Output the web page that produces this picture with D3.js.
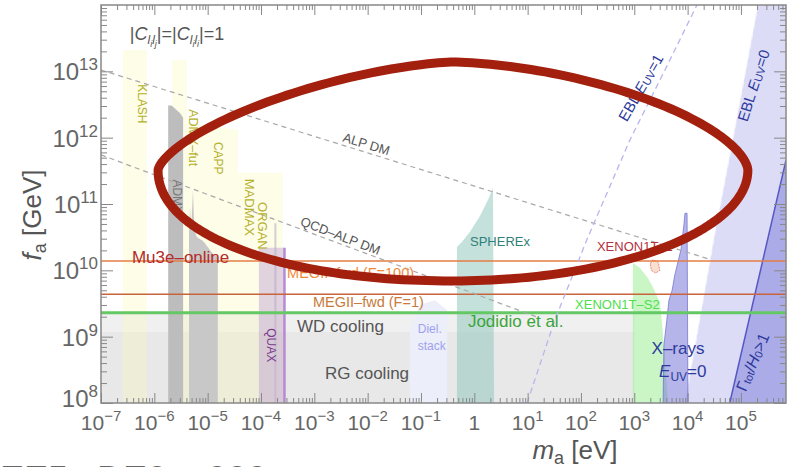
<!DOCTYPE html>
<html><head><meta charset="utf-8">
<script src="https://cdn.jsdelivr.net/npm/d3@7"></script>
<style>body{margin:0;background:#fff;} svg{display:block;font-family:"Liberation Sans",Arial,sans-serif;}</style>
</head><body><svg id="c" width="792" height="467"></svg>
<script>
// All values are [log10(m_a / eV), log10(f_a / GeV)]
const xDomainExp = [-7, 5.845];
const yDomainExp = [8, 14];
const xTickExps = [-7,-6,-5,-4,-3,-2,-1,0,1,2,3,4,5];
const yTickExps = [8,9,10,11,12,13];

const coolingWD = [[-7,8],[-7,9.36],[3,9.36],[3,8]];
const coolingRG = [[-7,8],[-7,9.07],[3,9.07],[3,8]];
const klash   = [[-6.59,8],[-6.59,13.32],[-6.14,13.32],[-6.14,8]];
const admxFut = [[-5.67,8],[-5.67,13.17],[-5.39,13.17],[-5.39,8]];
const capp    = [[-5.39,8],[-5.39,12.22],[-4.9,12.17],[-4.43,12.12],[-4.43,8]];
const madmax  = [[-4.43,8],[-4.43,11.47],[-3.59,11.47],[-3.59,8]];
const admxA   = [[-5.74,8],[-5.74,12.49],[-5.67,12.48],[-5.59,12.42],[-5.52,12.37],[-5.46,12.30],[-5.46,8]];
const admxB   = [[-5.35,8],[-5.35,10.55],[-5.33,10.95],[-5.31,10.6],[-5.275,11.21],[-5.25,10.6],[-5.2,10.5],[-5.1,10.45],[-5.05,10.41],[-5.0,10.35],[-4.95,10.3],[-4.9,10.25],[-4.81,10.2],[-4.81,8]];
const organSpike = [[-3.75,8],[-3.75,10.71],[-3.71,10.71],[-3.71,8]];
const quax    = [[-4.04,8],[-4.04,10.34],[-3.55,10.34],[-3.55,8]];
const quaxEdge= [[-3.56,8],[-3.56,10.34]];
const diel    = [[-1.21,8],[-1.21,9.10],[-1.02,9.48],[-0.74,9.55],[-0.51,9.40],[-0.51,8]];
const spherex = [[-0.325,8],[-0.325,10.35],[-0.23,10.43],[-0.08,10.58],[0.106,10.82],[0.256,11.06],[0.35,11.24],[0.37,8]];
const xenonS2 = [[2.975,8],[2.975,10.11],[3.106,10.035],[3.24,9.90],[3.35,9.75],[3.48,9.51],[3.52,9.21],[3.575,8.65],[3.63,8]];
const xenonS1 = [[3.30,10.1],[3.35,10.16],[3.45,10.12],[3.48,10.0],[3.40,9.96],[3.32,10.0]];
const xrays   = [[3.54,8],[3.556,8.87],[3.61,9.25],[3.65,9.55],[3.71,9.70],[3.76,9.93],[3.82,10.13],[3.875,10.31],[3.93,10.68],[3.95,10.86],[3.99,10.86],[4.006,8]];
const ebl0    = [[3.95,8],[4.49,10.46],[4.81,11.81],[5.32,14],[5.845,14],[5.845,8]];
const ebl0Edge= [[3.95,8],[4.49,10.46],[4.81,11.81],[5.32,14]];
const gammaH0 = [[4.79,8],[5.845,11.66],[5.845,8]];
const gammaEdge=[[4.79,8],[5.845,11.66]];
const ebl1    = [[0.99,8],[1.51,9.25],[2.11,10.46],[2.92,11.97],[3.575,13.02],[4.175,14.0]];
const alpDM   = [[-7,13.02],[4.4,10.17]];
const qcdDM   = [[-7,11.74],[1.23,9.28]];
const mu3eF   = 10.14;
const megF1   = 9.64;
const jodidioF= 9.36;
// hand-drawn annotation oval: left/right tips, top, middle and bottom heights, and per-quadrant squareness
const ovalLeftRight = [-5.93, 5.13];
const ovalTopMidBottom = [13.14, 11.51, 9.84];
const ovalExponents = {tl:1.5, tr:1.65, br:2.0, bl:2.1};

const svg = d3.select('#c');
const x = d3.scaleLog().domain([10**xDomainExp[0], 10**xDomainExp[1]]).range([101,786]);
const y = d3.scaleLog().domain([10**yDomainExp[0], 10**yDomainExp[1]]).range([403,5]);
const P = d => [x(10**d[0]), y(10**d[1])];
const line = d3.line().x(d=>P(d)[0]).y(d=>P(d)[1]);

svg.append('defs').append('clipPath').attr('id','clip').append('rect')
  .attr('x',x.range()[0]).attr('y',y.range()[1]).attr('width',x.range()[1]-x.range()[0]).attr('height',y.range()[0]-y.range()[1]);
const g = svg.append('g').attr('clip-path','url(#clip)');

function poly(pts, fill, stroke, sw, dash){
  const p = g.append('path').attr('d', line(pts)+'Z').attr('fill',fill).attr('stroke',stroke||'none');
  if(sw) p.attr('stroke-width',sw);
  if(dash) p.attr('stroke-dasharray',dash);
  return p;
}
function pl(pts, stroke, sw, dash){
  const p = g.append('path').attr('d', line(pts)).attr('fill','none').attr('stroke',stroke).attr('stroke-width',sw);
  if(dash) p.attr('stroke-dasharray',dash);
  return p;
}

poly(coolingWD,'#f0f0f0');
poly(coolingRG,'#e8e8e8');
[klash, admxFut, capp, madmax].forEach(r=>poly(r,'rgba(248,248,185,0.32)'));
poly(admxA,'#bdbdbd');
poly(admxB,'#c8c8c8');
poly(organSpike,'#d2d2d2');
poly(quax,'rgba(190,160,210,0.45)');
pl(quaxEdge,'#b88ad4',2.5);
poly(diel,'#eceef9');
poly(spherex,'rgba(140,195,185,0.5)');
poly(xenonS2,'rgba(150,235,140,0.5)');
poly(xenonS1,'rgba(245,200,180,0.6)','#e07060',0.8,'2,1');
poly(ebl0,'#dcdcf7');
pl(ebl0Edge,'#f4f4ff',1.2,'6,4');
poly(xrays,'rgba(120,120,215,0.55)','#6a6ad0',0.7);
poly(gammaH0,'#ababe8');
pl(gammaEdge,'#5757c4',1.5);

const xd = xDomainExp;
pl([[xd[0],mu3eF],[xd[1],mu3eF]],'#e57d45',1.6);
pl([[xd[0],megF1],[xd[1],megF1]],'#c8643c',1.5);
pl([[xd[0],jodidioF],[xd[1],jodidioF]],'#64c864',3);
pl(alpDM,'#a8a8a8',1.2,'5,4');
pl(qcdDM,'#a8a8a8',1.2,'5,4');
pl(ebl1,'#b6b6ee',1.3,'6,4');

function rich(t, segs, base){
  let prev = 0;
  segs.forEach(s=>{
    if(typeof s === 'string') s = {t:s};
    const off = s.o||0;
    const sp = t.append('tspan').attr('dy', off-prev).attr('font-size', s.s||base).text(s.t);
    if(s.i) sp.attr('font-style','italic');
    prev = off;
  });
}
const lab = svg.append('g');
function addLabel(L){
  const [px,py] = P(L.at);
  const t = lab.append('text').attr('transform',`translate(${px},${py}) rotate(${L.rot||0})`)
    .attr('text-anchor',L.anchor||'start').attr('fill',L.color).attr('font-size',L.size);
  if(L.central) t.attr('dominant-baseline','central');
  rich(t, L.segs, L.size);
}
const labels = [
  {segs:["|",{t:"C",i:1},{t:"l",i:1,s:12,o:4},{t:"i",i:1,s:9,o:7},{t:"l",i:1,s:12,o:4},{t:"j",i:1,s:9,o:7},{t:"|=|",o:0},{t:"C",i:1},{t:"l",i:1,s:12,o:4},{t:"i",i:1,s:9,o:7},{t:"l",i:1,s:12,o:4},{t:"i",i:1,s:9,o:7},{t:"|=1",o:0}], at:[-6.46,13.47], size:18, color:"#555"},
  {segs:["Mu3e\u2013online"], at:[-6.42,10.11], size:17, color:"#b32b2b"},
  {segs:["MEGII\u2013fwd (F=100)"], at:[-3.51,9.88], size:14.5, color:"#ef8a3a"},
  {segs:["MEGII\u2013fwd (F=1)"], at:[-3.025,9.45], size:14.5, color:"#c77a3c"},
  {segs:["WD cooling"], at:[-3.325,9.07], size:17, color:"#555"},
  {segs:["RG cooling"], at:[-2.8,8.36], size:17, color:"#555"},
  {segs:["Jodidio et al."], at:[-0.12,9.15], size:17, color:"#3aa53a"},
  {segs:["Diel."], at:[-1.06,9.055], size:12, color:"#9fa0ef"},
  {segs:["stack"], at:[-1.06,8.80], size:12, color:"#9fa0ef"},
  {segs:["SPHEREx"], at:[-0.08,10.37], size:13, color:"#2f7f7a"},
  {segs:["XENON1T\u2013S2"], at:[1.89,9.42], size:13, color:"#4ce04c"},
  {segs:["XENON1T\u20132"], at:[2.30,10.29], size:13, color:"#b53040"},
  {segs:["X\u2013rays"], at:[3.82,8.74], size:17, color:"#2c3a9c", anchor:"middle"},
  {segs:[{t:"E",i:1},{t:"UV",s:12,o:4},{t:"=0",o:0}], at:[3.91,8.39], size:17, color:"#2c3a9c", anchor:"middle"},
  {segs:["ALP DM"], at:[-2.05,11.84], size:13, color:"#555", anchor:"middle", rot:17},
  {segs:["QCD\u2013ALP DM"], at:[-2.54,10.457], size:13, color:"#555", anchor:"middle", rot:21},
  {segs:["KLASH"], at:[-6.23,12.51], size:12, color:"#b5b02c", anchor:"middle", rot:90, central:1},
  {segs:["ADMX\u2013fut"], at:[-5.275,12.0], size:12.5, color:"#b5b02c", anchor:"middle", rot:90, central:1},
  {segs:["CAPP"], at:[-4.81,11.69], size:12, color:"#b5b02c", anchor:"middle", rot:90, central:1},
  {segs:["MADMAX"], at:[-4.21,10.95], size:13, color:"#b5b02c", anchor:"middle", rot:90, central:1},
  {segs:["ORGAN"], at:[-3.96,10.67], size:13, color:"#b5b02c", anchor:"middle", rot:90, central:1},
  {segs:["ADMX"], at:[-5.575,11.11], size:12, color:"#777", anchor:"middle", rot:90, central:1},
  {segs:["QUAX"], at:[-3.81,8.87], size:12, color:"#7a3d8f", anchor:"middle", rot:90, central:1},
  {segs:["EBL ",{t:"E",i:1},{t:"UV",s:11,o:3},{t:"=1",o:0}], at:[3.11,12.76], size:15, color:"#2c3a9c", anchor:"middle", rot:-60, central:1},
  {segs:["EBL ",{t:"E",i:1},{t:"UV",s:11,o:3},{t:"=0",o:0}], at:[5.225,12.79], size:15, color:"#2c3a9c", anchor:"middle", rot:-72, central:1},
  {segs:["\u0393",{t:"tot",s:11,o:3},{t:"/",o:0},{t:"H",i:1},{t:"0",s:11,o:3},{t:">1",o:0}], at:[5.21,8.62], size:16, color:"#2c3a9c", anchor:"middle", rot:-67, central:1}
];
labels.forEach(addLabel);

// annotation oval, placed through the scales
{
  const xl = x(10**ovalLeftRight[0]), xr = x(10**ovalLeftRight[1]);
  const yt = y(10**ovalTopMidBottom[0]), cy = y(10**ovalTopMidBottom[1]), yb = y(10**ovalTopMidBottom[2]);
  const cx=(xl+xr)/2, rx=(xr-xl)/2, ryT=cy-yt, ryB=yb-cy;
  const pts = d3.range(0, 2*Math.PI, Math.PI/120).map(t=>{
    const c=Math.cos(t), s=Math.sin(t);
    const n = s<0 ? (c<0?ovalExponents.tl:ovalExponents.tr) : (c<0?ovalExponents.bl:ovalExponents.br);
    const e = 2/n;
    return [cx + rx*Math.sign(c)*Math.pow(Math.abs(c),e), cy + (s<0?ryT:ryB)*Math.sign(s)*Math.pow(Math.abs(s),e)];
  });
  svg.append('path').attr('d', d3.line().curve(d3.curveLinearClosed)(pts))
    .attr('fill','none').attr('stroke','#a3200e').attr('stroke-width',9).attr('stroke-linejoin','round');
}

// axes
const minorX=[], minorY=[];
for(let d=-7; d<=5; d++) for(let k=2;k<=9;k++){ const v=k*10**d; if(v<=10**xDomainExp[1]) minorX.push(v); }
for(let d=8; d<=13; d++) for(let k=2;k<=9;k++) minorY.push(k*10**d);
const majX = xTickExps.map(e=>10**e), majY = yTickExps.map(e=>10**e);
const ax = svg.append('g');
function tickAxis(axis, tr, vals, size){
  const a = ax.append('g').attr('transform',tr).call(axis.tickValues(vals).tickSizeInner(-size).tickSizeOuter(0).tickFormat(()=>''));
  a.select('.domain').remove();
  a.selectAll('line').attr('stroke','#888').attr('stroke-width',1);
}
tickAxis(d3.axisBottom(x),'translate(0,403)',majX,10);
tickAxis(d3.axisBottom(x),'translate(0,403)',minorX,5);
tickAxis(d3.axisTop(x),'translate(0,5)',majX,10);
tickAxis(d3.axisTop(x),'translate(0,5)',minorX,5);
tickAxis(d3.axisLeft(y),'translate(101,0)',majY,12);
tickAxis(d3.axisLeft(y),'translate(101,0)',minorY,6);
tickAxis(d3.axisRight(y),'translate(786,0)',majY,12);
tickAxis(d3.axisRight(y),'translate(786,0)',minorY,6);
ax.append('rect').attr('x',101).attr('y',5).attr('width',685).attr('height',398)
  .attr('fill','none').attr('stroke','#888').attr('stroke-width',1.5);

const fmt = e => e===0 ? ["1"] : ["10",{t:(e<0?"\u2212":"")+Math.abs(e),s:15,o:-9}];
xTickExps.forEach(e=>{
  const t = ax.append('text').attr('x',x(10**e)).attr('y',430).attr('text-anchor','middle').attr('fill','#666').attr('font-size',21);
  rich(t, fmt(e), 21);
});
yTickExps.forEach(e=>{
  const t = ax.append('text').attr('x',98).attr('y',y(10**e)+(e===8?4:9)).attr('text-anchor','end').attr('fill','#666').attr('font-size',24);
  rich(t, ["10",{t:String(e),s:17,o:-10}], 24);
});
const xt = ax.append('text').attr('x',575).attr('y',459).attr('text-anchor','middle').attr('fill','#555').attr('font-size',26);
rich(xt,[{t:"m",i:1},{t:"a",s:18,o:5},{t:" [eV]",o:0}],26);
const yt = ax.append('text').attr('transform','translate(41,215) rotate(-90)').attr('text-anchor','middle').attr('fill','#555').attr('font-size',26);
rich(yt,[{t:"f",i:1},{t:"a",s:18,o:5},{t:" [GeV]",o:0}],26);

// caption running off the bottom edge (as in the reference)
[["EE5,",0],["DE0",97],["000",207]].forEach(([s,px])=>
  svg.append('text').attr('x',px).attr('y',492).attr('font-size',36).attr('fill','#666').text(s));
</script></body></html>
